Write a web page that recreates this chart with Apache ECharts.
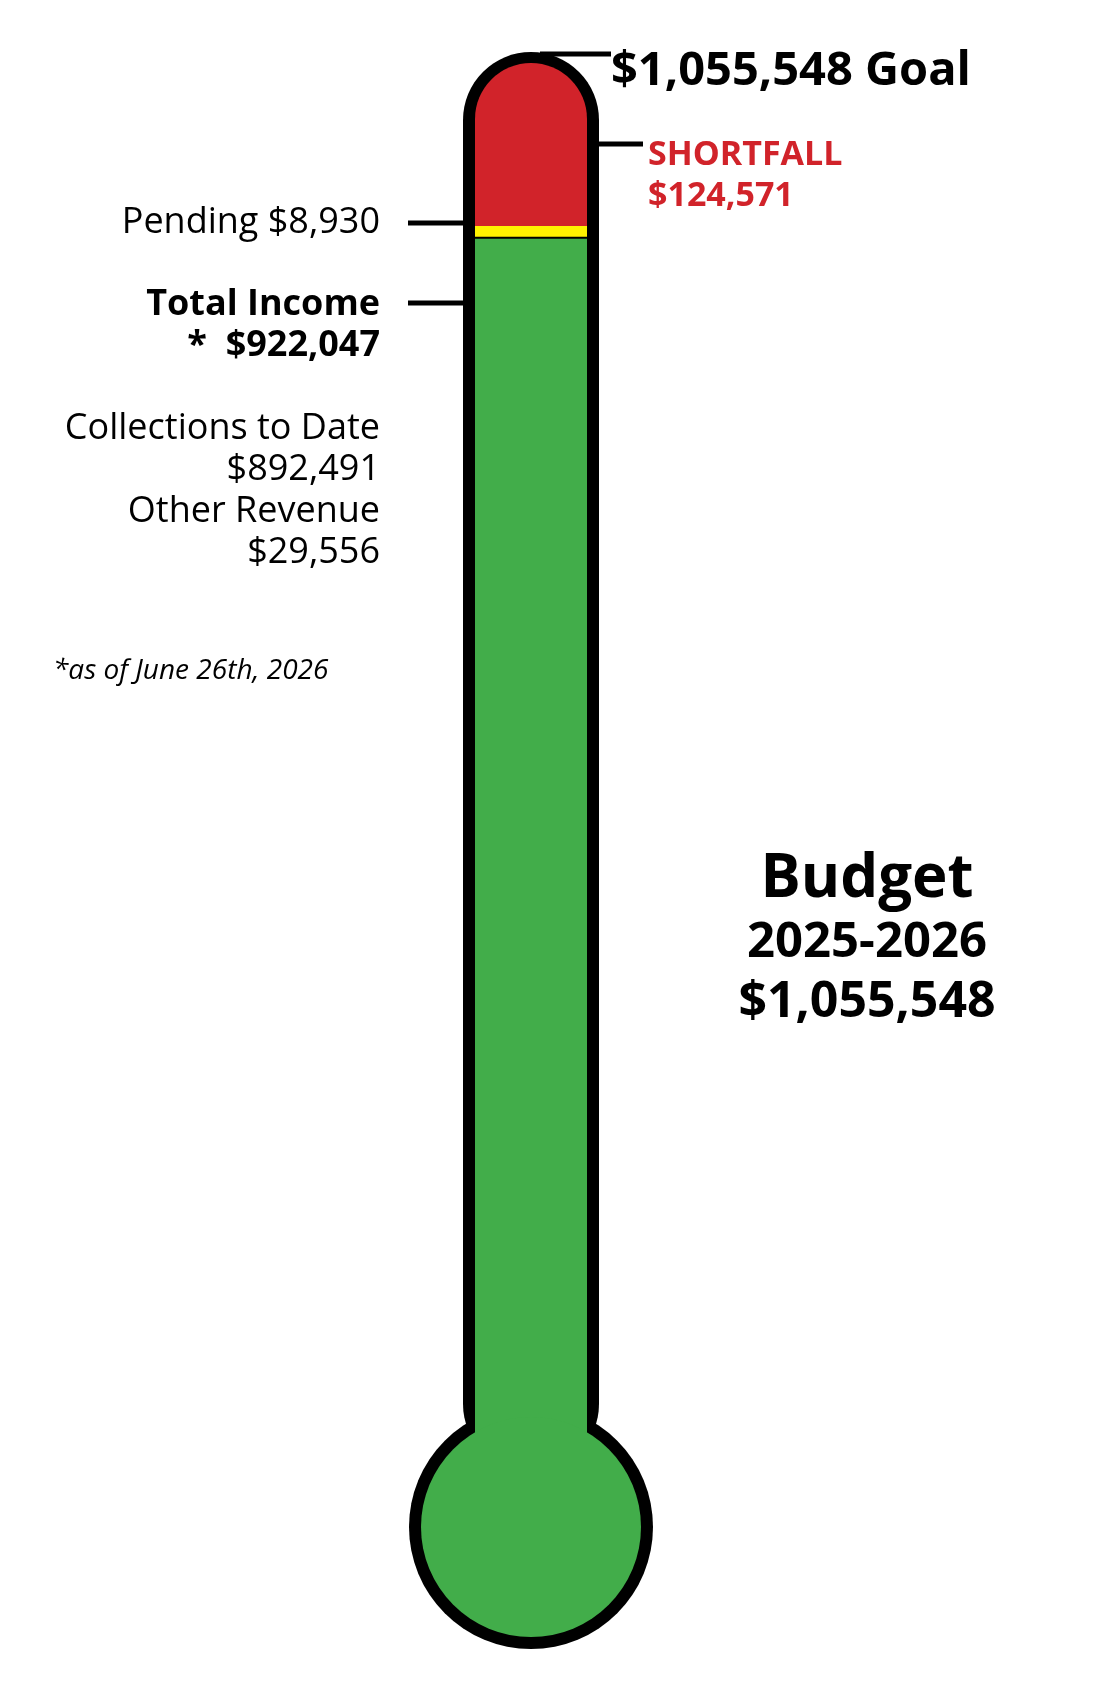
<!DOCTYPE html>
<html>
<head>
<meta charset="utf-8">
<script src="https://cdn.jsdelivr.net/npm/echarts@6/dist/echarts.min.js"></script>
<style>
  html, body { margin: 0; padding: 0; background: #fff; }
  #chart1 { width: 1100px; height: 1700px; }
</style>
</head>
<body>
<div id="chart1"></div>
<script>
// budget figures
var categories = ['Budget 2025-2026'];
var goal = [1055548];
var totalIncome = [922047];
var collections = [892491];
var otherRevenue = [29556];
var pending = [8930];
var shortfall = [124571];

var GREEN = '#42ad4a';
var YELLOW = '#fff200';
var RED = '#d1232a';
var FONT = '"Open Sans"';

function money(v) {
    return '$' + v.toLocaleString('en-US');
}

var myChart = echarts.init(document.getElementById('chart1'));

option = {
    animation: false,
    grid: {
        left: 475,
        width: 112,
        top: 63,
        bottom: 255
    },
    xAxis: {
        type: 'category',
        data: categories,
        show: false
    },
    yAxis: {
        type: 'value',
        min: 0,
        max: goal[0],
        show: false
    },
    series: [{
            name: 'Total Income',
            type: 'bar',
            stack: 'total',
            barWidth: 112,
            itemStyle: { color: GREEN },
            data: totalIncome
        },
        {
            name: 'Pending',
            type: 'bar',
            stack: 'total',
            itemStyle: { color: YELLOW },
            data: pending
        },
        {
            name: 'Shortfall',
            type: 'bar',
            stack: 'total',
            itemStyle: { color: RED, borderRadius: [56, 56, 0, 0] },
            data: shortfall
        }
    ]
};
myChart.setOption(option);

// thermometer outline drawn around the bar
var cx = myChart.convertToPixel({ xAxisIndex: 0 }, 0);
var topY = myChart.convertToPixel({ yAxisIndex: 0 }, goal[0]);
var greenTop = myChart.convertToPixel({ yAxisIndex: 0 }, totalIncome[0]);

function txt(x, y, s, size, weight, align, color, style) {
    return {
        type: 'text', z: 10, x: x, y: y,
        style: {
            text: s, fill: color || '#000',
            font: (style || 'normal') + ' ' + (weight || 'normal') + ' ' + size + 'px ' + FONT,
            align: align || 'left', verticalAlign: 'middle'
        }
    };
}
function lead(x1, x2, y) {
    return {
        type: 'line', z: 10,
        shape: { x1: x1, y1: y, x2: x2, y2: y },
        style: { stroke: '#000', lineWidth: 5 }
    };
}

myChart.setOption({
    graphic: [
        { type: 'rect', z: 0, shape: { x: cx - 68, y: topY - 11, width: 136, height: 1420, r: 68 }, style: { fill: '#000' } },
        { type: 'circle', z: 0, shape: { cx: cx, cy: 1527, r: 122 }, style: { fill: '#000' } },
        { type: 'circle', z: 5, shape: { cx: cx, cy: 1527, r: 110 }, style: { fill: GREEN } },
        { type: 'line', z: 5, shape: { x1: cx - 56, y1: greenTop, x2: cx + 56, y2: greenTop }, style: { stroke: '#000', lineWidth: 2 } },

        lead(540, 611, 54),
        lead(cx + 66, 643, 144),
        lead(408, cx - 66, 223),
        lead(408, cx - 66, 303),

        txt(611, 72, money(goal[0]) + ' Goal', 47, 'bold'),
        txt(648, 155, 'SHORTFALL', 34, 'bold', 'left', RED),
        txt(648, 196, money(shortfall[0]), 34, 'bold', 'left', RED),

        txt(380, 223, 'Pending ' + money(pending[0]), 36, 'normal', 'right'),
        txt(380, 305, 'Total Income', 36, 'bold', 'right'),
        txt(380, 346, '*  ' + money(totalIncome[0]), 36, 'bold', 'right'),
        txt(380, 429, 'Collections to Date', 36, 'normal', 'right'),
        txt(380, 470, money(collections[0]), 36, 'normal', 'right'),
        txt(380, 512, 'Other Revenue', 36, 'normal', 'right'),
        txt(380, 553, money(otherRevenue[0]), 36, 'normal', 'right'),
        txt(53, 671, '*as of June 26th, 2026', 28, 'normal', 'left', '#000', 'italic'),

        txt(867, 880, 'Budget', 60, 'bold', 'center'),
        txt(867, 943, '2025-2026', 49, 'bold', 'center'),
        txt(867, 1003, money(goal[0]), 50, 'bold', 'center')
    ]
});
window.onresize = myChart.resize;
</script>
</body>
</html>
